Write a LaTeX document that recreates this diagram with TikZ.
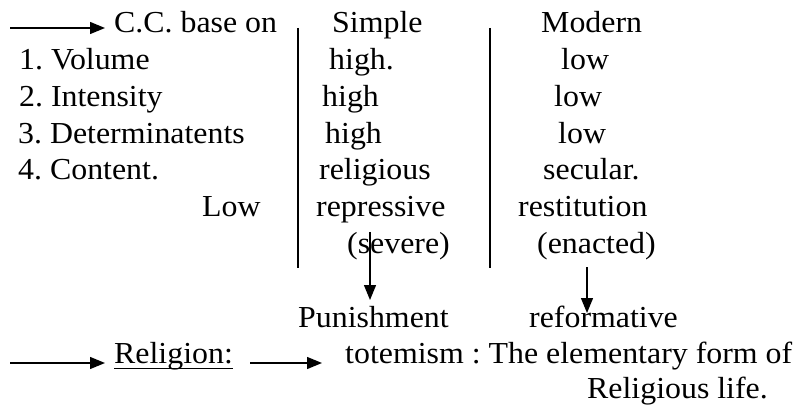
\documentclass[tikz,border=0pt]{standalone}
\usepackage{fontspec}
\setmainfont[FakeStretch=1.045]{Liberation Serif}
\usetikzlibrary{arrows.meta}

\tikzset{
  txt/.style={anchor=base west, inner sep=0pt, font=\fontsize{30.5}{36}\selectfont\frenchspacing},
  arr/.style={line width=1.3pt, -{Triangle[length=15pt,width=12pt]}},
  rule/.style={line width=1.5pt},
}

\begin{document}
\begin{tikzpicture}[x=1pt,y=-1pt]
  \useasboundingbox (0,0) rectangle (795,406);

  % header row
  \node[txt] (cc)     at (114,33)    {C.C. base on};
  \node[txt] (simple) at (332,33)    {Simple};
  \node[txt] (modern) at (541,33)    {Modern};

  % criteria and values
  \node[txt] (vol)    at (19,69.7)   {1. Volume};
  \node[txt] (volS)   at (329,69.7)  {high.};
  \node[txt] (volM)   at (561,69.7)  {low};

  \node[txt] (int)    at (19,106.4)  {2. Intensity};
  \node[txt] (intS)   at (322,106.4) {high};
  \node[txt] (intM)   at (554,106.4) {low};

  \node[txt] (det)    at (18,143.1)  {3. Determinatents};
  \node[txt] (detS)   at (325,143.1) {high};
  \node[txt] (detM)   at (558,143.1) {low};

  \node[txt] (con)    at (18,179.8)  {4. Content.};
  \node[txt] (conS)   at (319,179.8) {religious};
  \node[txt] (conM)   at (543,179.8) {secular.};

  \node[txt] (low)    at (202,216.5) {Low};
  \node[txt] (rep)    at (316,216.5) {repressive};
  \node[txt] (rest)   at (518,216.5) {restitution};

  \node[txt] (sev)    at (347,253.2) {(severe)};
  \node[txt] (ena)    at (537,253.2) {(enacted)};

  \node[txt] (pun)    at (298,327)   {Punishment};
  \node[txt] (ref)    at (529,327)   {reformative};

  \node[txt] (rel)    at (114,363)   {Religion:};
  \node[txt] (tot)    at (345,363)   {totemism : The elementary form of};
  \node[txt] (life)   at (587,398)   {Religious life.};

  % column separators
  \coordinate (sepAtop) at (298,28);
  \coordinate (sepAbot) at (298,268);
  \coordinate (sepBtop) at (490,28);
  \coordinate (sepBbot) at (490,268);
  \draw[rule] (sepAtop) -- (sepAbot);
  \draw[rule] (sepBtop) -- (sepBbot);

  % underline of the heading
  \coordinate (ulL) at (114,368.5);
  \coordinate (ulR) at (233,368.5);
  \draw[line width=1.4pt] (ulL) -- (ulR);

  % arrows
  \coordinate (a0) at (10,28);
  \coordinate (a1) at (105,28);
  \draw[arr] (a0) -- (a1);

  \coordinate (b0) at (10,363);
  \coordinate (b1) at (105,363);
  \draw[arr] (b0) -- (b1);

  \coordinate (c0) at (250,363);
  \coordinate (c1) at (322,363);
  \draw[arr] (c0) -- (c1);

  \coordinate (d0) at (370,232);
  \coordinate (d1) at (370,300);
  \draw[arr] (d0) -- (d1);

  \coordinate (e0) at (587,267);
  \coordinate (e1) at (587,313);
  \draw[arr] (e0) -- (e1);
\end{tikzpicture}
\end{document}
